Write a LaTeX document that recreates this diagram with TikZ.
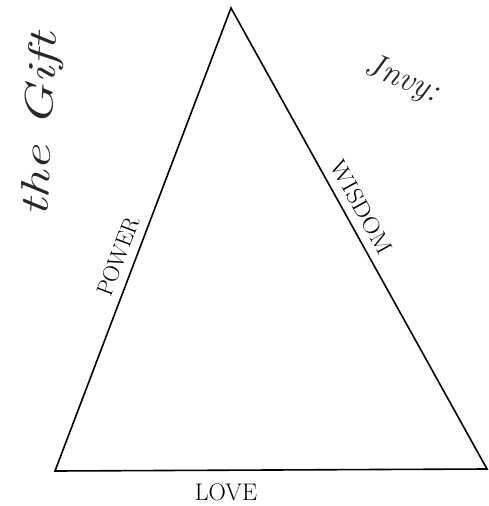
\documentclass[tikz,border=0pt]{standalone}
\usepackage{tikz}
\usetikzlibrary{positioning}

\begin{document}
\begin{tikzpicture}[
    x=1pt, y=-1pt,
    side/.style={line width=1.6pt, line join=miter},
    caps/.style={font=\fontsize{23}{25}\selectfont, inner sep=0pt},
    scrawl/.style={font=\fontsize{40}{42}\selectfont\itshape, inner sep=0pt, text=black!85}
  ]
    \useasboundingbox (0,0) rectangle (488,506);
    % corners of the triangle
    \coordinate (apex) at (231,8);
    \coordinate (left) at (55,471);
    \coordinate (right) at (487,469);
    \draw[side] (apex) -- (right) -- (left) -- cycle;
    % side labels
    \path (left) -- node[caps, sloped, pos=0.45, above=9pt] (power) {POWER} (apex);
    \path (apex) -- node[caps, sloped, pos=0.45, above=9pt, xscale=1.1] (wisdom) {WISDOM} (right);
    \node[caps, font=\fontsize{24}{26}\selectfont] (love) at (226,492) {LOVE};
    % handwritten notes
    \node[scrawl, rotate=87, xscale=1.4] (gift) at (42,125) {the Gift};
    \node[scrawl, rotate=-22, font=\fontsize{34}{36}\selectfont\itshape] (note) at (402,80) {Jnvy:};
  \end{tikzpicture}
\end{document}
